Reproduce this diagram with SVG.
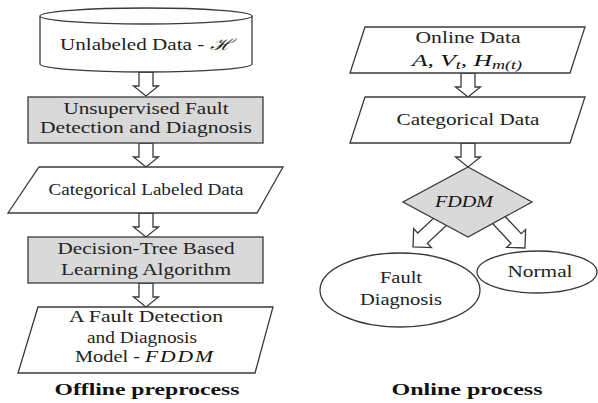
<svg xmlns="http://www.w3.org/2000/svg" width="598" height="403" viewBox="0 0 598 403">
<style>
.s{fill:#fff;stroke:#3a3a3a;stroke-width:1.3}
.g{fill:#d9d9d9;stroke:#3a3a3a;stroke-width:1.3}
.t{font-family:"Liberation Serif",serif;font-size:16px;fill:#222;text-anchor:middle}
.m{font-family:"Liberation Serif",serif;font-style:italic;font-size:17px;fill:#111}
.b{font-family:"Liberation Serif",serif;font-weight:bold;font-size:16px;fill:#111;text-anchor:middle}
</style>
<defs>
<path id="va" class="s" d="M-7,0 H7 V14 H12.5 L0,24 L-12.5,14 H-7 Z"/>
<path id="da" class="s" d="M-7,0 H7 V28 H13 L0,41 L-13,28 H-7 Z"/>
</defs>
<g id="connectors">
<use href="#va" x="146" y="72"/>
<use href="#va" x="146" y="143"/>
<use href="#va" x="146" y="213"/>
<use href="#va" x="146" y="283"/>
<use href="#va" x="468" y="73"/>
<use href="#va" x="468" y="143"/>
<use href="#da" transform="translate(443,219) rotate(47)"/>
<use href="#da" transform="translate(497,218) rotate(-43)"/>
</g>
<g id="unlabeled">
<path class="s" d="M40,16 V64 A106,8 0 0 0 252,64 V16"/>
<ellipse class="s" cx="146" cy="16" rx="106" ry="8"/>
<text class="t" x="146" y="50" textLength="172" lengthAdjust="spacingAndGlyphs">Unlabeled Data - <tspan font-family="DejaVu Serif" font-style="italic">ℋ</tspan></text>
</g>
<g id="unsupervised">
<rect class="g" x="28" y="97" width="235" height="46"/>
<text class="t" x="146" y="114" textLength="165" lengthAdjust="spacingAndGlyphs">Unsupervised Fault</text>
<text class="t" x="146" y="133" textLength="212" lengthAdjust="spacingAndGlyphs">Detection and Diagnosis</text>
</g>
<g id="categorical-labeled">
<polygon class="s" points="39,167 283,167 257,213 8,213"/>
<text class="t" x="146" y="195" textLength="195" lengthAdjust="spacingAndGlyphs">Categorical Labeled Data</text>
</g>
<g id="decision-tree">
<rect class="g" x="28" y="237" width="235" height="46"/>
<text class="t" x="146" y="254" textLength="177" lengthAdjust="spacingAndGlyphs">Decision-Tree Based</text>
<text class="t" x="146" y="275" textLength="170" lengthAdjust="spacingAndGlyphs">Learning Algorithm</text>
</g>
<g id="fddm-model">
<polygon class="s" points="38,307 273,307 255,373 18,373"/>
<text class="t" x="146" y="322" textLength="154" lengthAdjust="spacingAndGlyphs">A Fault Detection</text>
<text class="t" x="142" y="343" textLength="110" lengthAdjust="spacingAndGlyphs">and Diagnosis</text>
<text class="t" x="145" y="362" textLength="140" lengthAdjust="spacingAndGlyphs">Model - <tspan class="m" letter-spacing="1.5">FDDM</tspan></text>
</g>
<text class="b" x="147" y="395" textLength="185" lengthAdjust="spacingAndGlyphs">Offline preprocess</text>
<g id="online-data">
<polygon class="s" points="365,27 585,27 570,73 350,73"/>
<text class="t" x="468" y="43" textLength="105" lengthAdjust="spacingAndGlyphs">Online Data</text>
<text class="m" x="467" y="66" text-anchor="middle" textLength="110" lengthAdjust="spacingAndGlyphs">A, V<tspan font-size="12" dy="3">t</tspan><tspan dy="-3">, H</tspan><tspan font-size="12" dy="3">m(t)</tspan></text>
</g>
<g id="categorical-data">
<polygon class="s" points="365,97 585,97 570,143 350,143"/>
<text class="t" x="468" y="125" textLength="143" lengthAdjust="spacingAndGlyphs">Categorical Data</text>
</g>
<g id="fddm">
<polygon class="g" points="468,167 532,202 468,237 403,202"/>
<text class="m" x="464" y="207" text-anchor="middle" font-size="15" textLength="58" lengthAdjust="spacingAndGlyphs">FDDM</text>
</g>
<g id="fault-diagnosis">
<ellipse class="s" cx="400" cy="290" rx="80" ry="37"/>
<text class="t" x="401" y="283" textLength="42" lengthAdjust="spacingAndGlyphs">Fault</text>
<text class="t" x="401" y="305" textLength="82" lengthAdjust="spacingAndGlyphs">Diagnosis</text>
</g>
<g id="normal">
<ellipse class="s" cx="537" cy="272" rx="60" ry="21"/>
<text class="t" x="540" y="277" textLength="65" lengthAdjust="spacingAndGlyphs">Normal</text>
</g>
<text class="b" x="467" y="395" textLength="151" lengthAdjust="spacingAndGlyphs">Online process</text>
</svg>
